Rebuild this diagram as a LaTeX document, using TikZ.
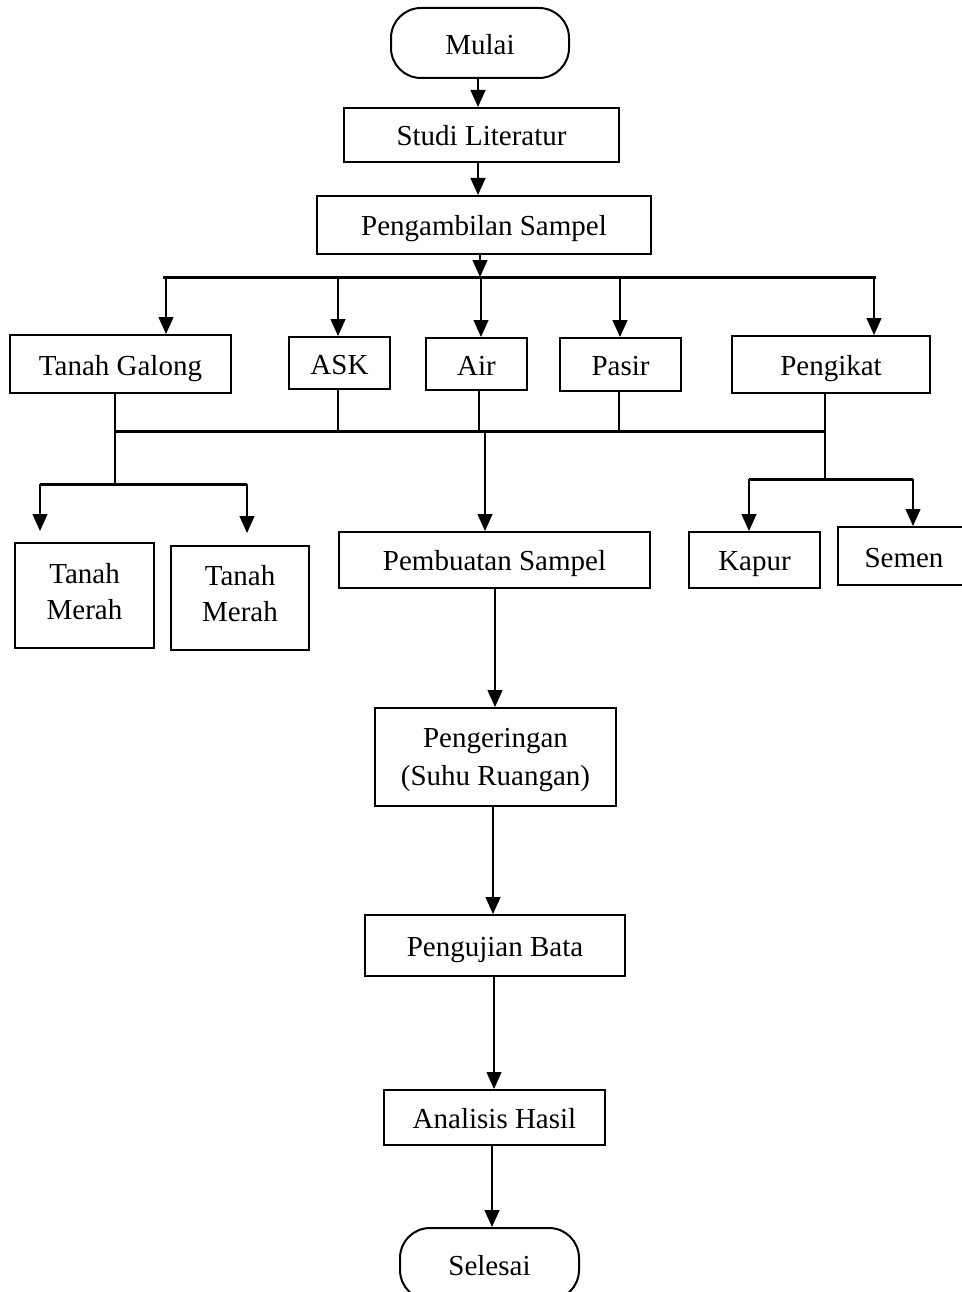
\documentclass[tikz,border=0pt]{standalone}
\usepackage{fontspec}
\setmainfont{Liberation Serif}
\usetikzlibrary{arrows.meta}
\begin{document}
\begin{tikzpicture}[x=1pt,y=-1pt,
  box/.style={draw,line width=2pt,inner sep=0pt,align=center,font=\fontsize{29}{36}\selectfont,text height=22pt,text depth=0pt},
  twobox/.style={box,text height=47pt},
  term/.style={box,rounded corners=30pt},
  conn/.style={line width=1.2pt},
  arr/.style={conn,-{Triangle[width=15pt,length=17pt]}},
  bus/.style={line width=3pt}]
\useasboundingbox (0,0) rectangle (961,1292);
% nodes
\node[term,minimum width=178pt,minimum height=70pt,text height=24pt] (mulai) at (480,43) {Mulai};
\node[box,minimum width=275pt,minimum height=54pt] (studi) at (481.5,135) {Studi Literatur};
\node[box,minimum width=334pt,minimum height=58pt,text height=20pt] (ambil) at (484,225) {Pengambilan Sampel};
\node[box,minimum width=221pt,minimum height=58pt] (tg) at (120.5,364) {Tanah Galong};
\node[box,minimum width=101pt,minimum height=52pt] (ask) at (339.5,363) {ASK};
\node[box,minimum width=101pt,minimum height=52pt] (air) at (476.5,364) {Air};
\node[box,minimum width=121pt,minimum height=53pt] (pasir) at (620.5,364.5) {Pasir};
\node[box,minimum width=198pt,minimum height=57pt] (ikat) at (831,364.5) {Pengikat};
\node[twobox,minimum width=139pt,minimum height=105pt] (tm1) at (84.5,595.5) {Tanah\\Merah};
\node[twobox,minimum width=138pt,minimum height=104pt] (tm2) at (240,598) {Tanah\\Merah};
\node[box,minimum width=311pt,minimum height=56pt,text height=20pt] (buat) at (494.5,560) {Pembuatan Sampel};
\node[box,minimum width=131pt,minimum height=56pt,text height=20pt] (kapur) at (754.5,560) {Kapur};
\node[box,minimum width=132pt,minimum height=58pt] (semen) at (904,556) {Semen};
\node[box,minimum width=241pt,minimum height=98pt,font=\fontsize{29}{38}\selectfont,text height=56pt] (kering) at (495.5,757) {Pengeringan\\(Suhu Ruangan)};
\node[box,minimum width=260pt,minimum height=61pt] (uji) at (495,945.5) {Pengujian Bata};
\node[box,minimum width=221pt,minimum height=55pt] (anal) at (494.5,1117.5) {Analisis Hasil};
\node[term,minimum width=179pt,minimum height=72pt] (selesai) at (489.5,1264) {Selesai};
% bus coordinates
\coordinate (t1) at (163,277);
\coordinate (t2) at (876,277);
\coordinate (d1) at (166,277);
\coordinate (d2) at (338,277);
\coordinate (d3) at (481,277);
\coordinate (d4) at (620,277);
\coordinate (d5) at (874,277);
\coordinate (u1) at (115,431);
\coordinate (u2) at (338,431);
\coordinate (u3) at (479,431);
\coordinate (u4) at (619,431);
\coordinate (u5) at (825,431);
\coordinate (um) at (485,431);
\coordinate (s1) at (115,484);
\coordinate (sl) at (40,484);
\coordinate (sr) at (247,484);
\coordinate (k1) at (825,479);
\coordinate (kl) at (749,479);
\coordinate (kr) at (913,479);
% connectors
\draw[arr] (mulai.south -| 478,0) -- (studi.north -| 478,0);
\draw[arr] (studi.south -| 478,0) -- (ambil.north -| 478,0);
\draw[arr] (ambil.south -| 480,0) -- (480,277);
\draw[bus] (t1) -- (t2);
\draw[arr] (d1) -- (d1 |- tg.north);
\draw[arr] (d2) -- (d2 |- ask.north);
\draw[arr] (d3) -- (d3 |- air.north);
\draw[arr] (d4) -- (d4 |- pasir.north);
\draw[arr] (d5) -- (d5 |- ikat.north);
\draw[conn] (u1 |- tg.south) -- (u1);
\draw[conn] (u2 |- ask.south) -- (u2);
\draw[conn] (u3 |- air.south) -- (u3);
\draw[conn] (u4 |- pasir.south) -- (u4);
\draw[conn] (u5 |- ikat.south) -- (k1);
\draw[bus] (u1) -- (u5);
\draw[conn] (u1) -- (s1);
\draw[bus] (sl) -- (sr);
\draw[arr] (sl) -- (sl |- 0,531);
\draw[arr] (sr) -- (sr |- 0,533);
\draw[arr] (um) -- (um |- buat.north);
\draw[bus] (kl) -- (kr);
\draw[arr] (kl) -- (kl |- kapur.north);
\draw[arr] (kr) -- (kr |- semen.north);
\draw[arr] (buat.south -| 495,0) -- (kering.north -| 495,0);
\draw[arr] (kering.south -| 493,0) -- (uji.north -| 493,0);
\draw[arr] (uji.south -| 494,0) -- (anal.north -| 494,0);
\draw[arr] (anal.south -| 492,0) -- (selesai.north -| 492,0);
\end{tikzpicture}
\end{document}
